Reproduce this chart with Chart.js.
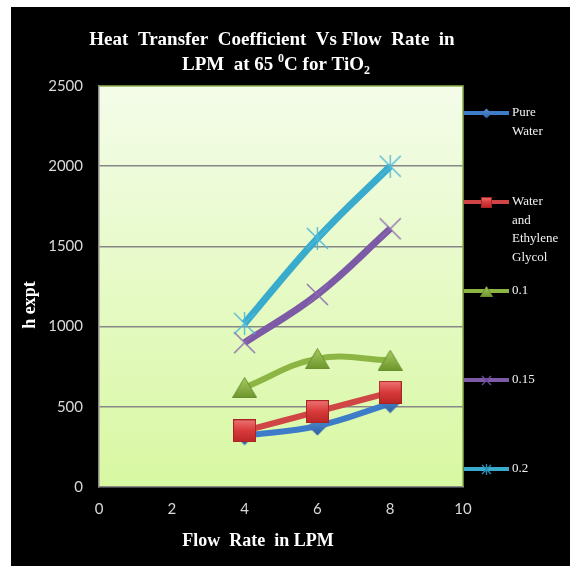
<!DOCTYPE html>
<html>
<head>
<meta charset="utf-8">
<script src="https://cdn.jsdelivr.net/npm/chart.js@4.4.1/dist/chart.umd.min.js"></script>
<style>
  html, body { margin: 0; padding: 0; background: #ffffff; }
  #wrap { width: 570px; height: 566px; position: relative; }
</style>
</head>
<body>
<div id="wrap"><canvas id="chart" width="570" height="566"></canvas></div>
<script>
// Flow rate (LPM) on the x axis
const flowRates = [4, 6, 8];

// Series names shown in the legend
const seriesNames = ['Pure Water', 'Water and Ethylene Glycol', '0.1', '0.15', '0.2'];

// h expt values per series
const pureWater = [320, 380, 520];
const waterGlycol = [350, 470, 590];
const tio2_010 = [620, 800, 790];
const tio2_015 = [900, 1200, 1610];
const tio2_020 = [1020, 1550, 2000];

// Axis tick values
const xTicks = [0, 2, 4, 6, 8, 10];
const yTicks = [0, 500, 1000, 1500, 2000, 2500];

const TICK_FONT = { family: 'Lato, "Open Sans", sans-serif', size: 15 };
const SERIF = '"Liberation Serif", "Times New Roman", serif';

// ---- marker sprites -------------------------------------------------------
function sprite(w, h, paint) {
  const c = document.createElement('canvas');
  c.width = w; c.height = h;
  paint(c.getContext('2d'), w, h);
  return c;
}

function diamond(s) {
  return sprite(s, s, (g, w, h) => {
    const gr = g.createLinearGradient(0, 0, 0, h);
    gr.addColorStop(0, '#5a94d8'); gr.addColorStop(1, '#2b5fa3');
    g.fillStyle = gr;
    g.beginPath();
    g.moveTo(w / 2, 0.5); g.lineTo(w - 0.5, h / 2); g.lineTo(w / 2, h - 0.5); g.lineTo(0.5, h / 2);
    g.closePath(); g.fill();
  });
}

function square(s) {
  return sprite(s, s, (g, w, h) => {
    const gr = g.createLinearGradient(0, 0, 0, h);
    gr.addColorStop(0, '#ee7474'); gr.addColorStop(0.5, '#d83a3a'); gr.addColorStop(1, '#b82626');
    g.fillStyle = gr;
    g.fillRect(0, 0, w, h);
    g.strokeStyle = '#a82424'; g.lineWidth = 1;
    g.strokeRect(0.5, 0.5, w - 1, h - 1);
  });
}

function triangle(w0, h0) {
  return sprite(w0, h0, (g, w, h) => {
    const gr = g.createLinearGradient(0, 0, 0, h);
    gr.addColorStop(0, '#a9cc62'); gr.addColorStop(1, '#6c952c');
    g.fillStyle = gr;
    g.beginPath();
    g.moveTo(w / 2, 0.5); g.lineTo(w - 0.5, h - 0.5); g.lineTo(0.5, h - 0.5);
    g.closePath(); g.fill();
    g.strokeStyle = '#6a8f2e'; g.lineWidth = 1; g.stroke();
  });
}

function cross(s, color, withBar) {
  return sprite(s, s, (g, w, h) => {
    g.strokeStyle = color; g.lineWidth = 1.3;
    g.beginPath();
    g.moveTo(1, 1); g.lineTo(w - 1, h - 1);
    g.moveTo(w - 1, 1); g.lineTo(1, h - 1);
    if (withBar) { g.moveTo(w / 2, 0); g.lineTo(w / 2, h); }
    g.stroke();
  });
}

const markers = [
  { big: diamond(20),          small: diamond(11) },
  { big: square(23),           small: square(11) },
  { big: triangle(25, 21),     small: triangle(13, 11) },
  { big: cross(23, '#8a6ab0', false), small: cross(11, '#6a4a98', false) },
  { big: cross(23, '#4cb8da', true),  small: cross(11, '#2a8fb8', true) }
];

function series(idx, values, line, width, order) {
  return {
    label: seriesNames[idx],
    data: flowRates.map((x, i) => ({ x: x, y: values[i] })),
    borderColor: line,
    backgroundColor: line,
    borderWidth: width,
    tension: 0.4,
    pointStyle: markers[idx].big,
    pointRadius: 11,
    pointHoverRadius: 11,
    order: order
  };
}

const datasets = [
  series(0, pureWater,   '#3d7cc9', 6, 5),
  series(1, waterGlycol, '#d04646', 6, 4),
  series(2, tio2_010,    '#8db543', 6, 3),
  series(3, tio2_015,    '#7d5aa6', 7, 2),
  series(4, tio2_020,    '#39abcc', 7, 1)
];

// Black card, plot gradient and the plot frame
const backdrop = {
  id: 'backdrop',
  beforeDraw(chart) {
    const { ctx, chartArea: a } = chart;
    ctx.save();
    ctx.fillStyle = '#ffffff';
    ctx.fillRect(0, 0, chart.width, chart.height);
    ctx.fillStyle = '#000000';
    ctx.fillRect(11, 7, chart.width - 11, chart.height - 7);
    const g = ctx.createLinearGradient(0, a.top, 0, a.bottom);
    g.addColorStop(0, '#f4fce9');
    g.addColorStop(1, '#d8f8a2');
    ctx.fillStyle = g;
    ctx.fillRect(a.left, a.top, a.right - a.left, a.bottom - a.top);
    ctx.restore();
  },
  beforeDatasetsDraw(chart) {
    const { ctx, chartArea: a } = chart;
    ctx.save();
    ctx.strokeStyle = '#8fb050';
    ctx.lineWidth = 1.5;
    ctx.beginPath();
    ctx.moveTo(a.left, a.top);
    ctx.lineTo(a.right, a.top);
    ctx.lineTo(a.right, a.bottom);
    ctx.stroke();
    ctx.restore();
  }
};

// Draws a run of text pieces (with optional super/subscripts) centred on cx
function drawRuns(ctx, runs, cx, y) {
  let total = 0;
  runs.forEach(r => { ctx.font = r.font; r.w = ctx.measureText(r.t).width; total += r.w; });
  let x = cx - total / 2;
  runs.forEach(r => {
    ctx.font = r.font;
    ctx.fillText(r.t, x, y + (r.dy || 0));
    x += r.w;
  });
}

// Chart title and axis titles
const titles = {
  id: 'titles',
  afterDraw(chart) {
    const ctx = chart.ctx;
    ctx.save();
    ctx.fillStyle = '#ffffff';
    ctx.textAlign = 'left';
    ctx.textBaseline = 'alphabetic';
    const big = 'bold 19px ' + SERIF;
    const small = 'bold 12px ' + SERIF;
    drawRuns(ctx, [{ t: 'Heat  Transfer  Coefficient  Vs Flow  Rate  in', font: big }], 272, 45);
    drawRuns(ctx, [
      { t: 'LPM  at 65 ', font: big },
      { t: '0', font: small, dy: -8 },
      { t: 'C for TiO', font: big },
      { t: '2', font: small, dy: 4 }
    ], 276, 70);

    ctx.font = 'bold 18px ' + SERIF;
    ctx.textAlign = 'center';
    ctx.textBaseline = 'middle';
    ctx.fillText('Flow  Rate  in LPM', 258, 541);

    ctx.translate(30, 305);
    ctx.rotate(-Math.PI / 2);
    ctx.fillText('h expt', 0, 0);
    ctx.restore();
  }
};

// Legend to the right of the plot, entries spread down its height
const sideLegend = {
  id: 'sideLegend',
  afterDraw(chart) {
    const { ctx, chartArea: a } = chart;
    const step = (a.bottom - a.top) / 4.5;
    ctx.save();
    chart.data.datasets.forEach((ds, i) => {
      const y = Math.round(a.top + 27 + i * step);
      ctx.strokeStyle = ds.borderColor;
      ctx.lineWidth = 4;
      ctx.beginPath();
      ctx.moveTo(a.right + 1, y);
      ctx.lineTo(a.right + 46, y);
      ctx.stroke();
      const m = markers[i].small;
      ctx.drawImage(m, Math.round(a.right + 23 - m.width / 2), Math.round(y - m.height / 2));
      // word-wrapped label
      ctx.fillStyle = '#f2f2f2';
      ctx.font = '13px ' + SERIF;
      ctx.textAlign = 'left';
      ctx.textBaseline = 'middle';
      const words = ds.label.split(' ');
      const lines = [];
      let cur = '';
      words.forEach(w => {
        const t = cur ? cur + ' ' + w : w;
        if (cur && ctx.measureText(t).width > 46) { lines.push(cur); cur = w; } else { cur = t; }
      });
      if (cur) lines.push(cur);
      lines.forEach((ln, k) => ctx.fillText(ln, a.right + 49, y + k * 18.5));
    });
    ctx.restore();
  }
};

new Chart(document.getElementById('chart'), {
  type: 'line',
  data: { datasets: datasets },
  options: {
    responsive: false,
    animation: false,
    devicePixelRatio: 1,
    layout: { padding: { left: 0, top: 86, right: 107, bottom: 0 } },
    plugins: {
      legend: { display: false },
      title: { display: false },
      tooltip: { enabled: false }
    },
    scales: {
      x: {
        type: 'linear',
        min: 0,
        max: 10,
        afterBuildTicks(s) { s.ticks = xTicks.map(v => ({ value: v })); },
        afterFit(s) { s.height = 79; },
        grid: { display: false, drawTicks: false },
        border: { display: true, color: '#8a8a8a', width: 1.5 },
        ticks: { color: '#d9d9d9', font: TICK_FONT, padding: 13, maxRotation: 0, callback: v => String(v) }
      },
      y: {
        min: 0,
        max: 2500,
        afterBuildTicks(s) { s.ticks = yTicks.map(v => ({ value: v })); },
        afterFit(s) { s.width = 99; },
        grid: {
          drawTicks: false,
          color: c => (c.tick && (c.tick.value === 0 || c.tick.value === 2500)) ? 'rgba(0,0,0,0)' : '#878787',
          lineWidth: 1.5
        },
        border: { display: true, color: '#8a8a8a', width: 1.5 },
        ticks: { color: '#d9d9d9', font: TICK_FONT, padding: 16, callback: v => String(v) }
      }
    }
  },
  plugins: [backdrop, titles, sideLegend]
});
</script>
</body>
</html>
